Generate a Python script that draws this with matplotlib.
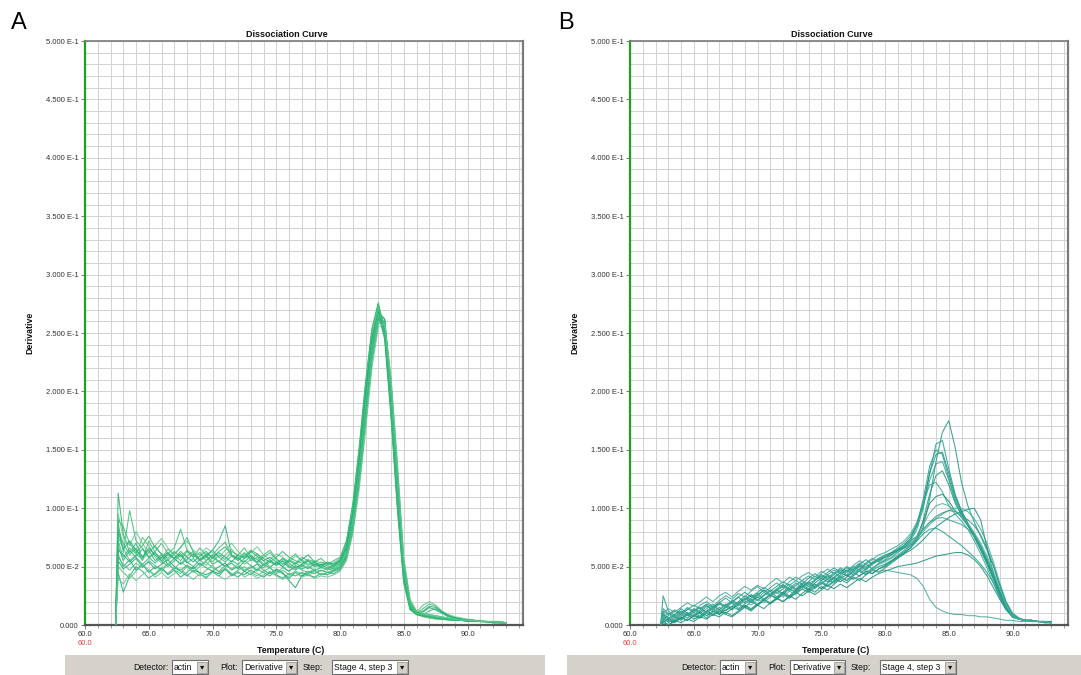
import matplotlib
matplotlib.use('Agg')
import matplotlib.pyplot as plt
from matplotlib.ticker import MultipleLocator, FixedLocator
from matplotlib.patches import Rectangle
import numpy as np

plt.rcParams['font.family'] = ['Liberation Sans', 'DejaVu Sans']

# ---------------- data ----------------
TEMP = [62.4, 62.6,
        63.0, 63.5, 64.0, 64.5, 65.0, 65.5, 66.0, 66.5, 67.0, 67.5, 68.0, 68.5,
        69.0, 69.5, 70.0, 70.5, 71.0, 71.5, 72.0, 72.5, 73.0, 73.5, 74.0, 74.5,
        75.0, 75.5, 76.0, 76.5, 77.0, 77.5, 78.0, 78.5, 79.0, 79.5, 80.0, 80.5,
        81.0, 81.5, 82.0, 82.5, 83.0, 83.5, 84.0, 84.5, 85.0, 85.5, 86.0, 86.5,
        87.0, 87.5, 88.0, 88.5, 89.0, 89.5, 90.0, 90.5, 91.0, 91.5, 92.0, 92.5, 93.0]

# Panel A derivative curves (units of 1E-3)
A01 = [0, 113, 78, 62, 70, 58, 64, 55, 60, 52, 57, 61, 54, 50, 56, 59, 52, 55, 50, 53, 48, 55, 51, 47, 52, 49, 54, 50, 46, 51, 48, 50, 47, 49, 48, 50,
       52, 64, 92, 135, 188, 240, 270, 258, 198, 122, 46, 16, 9, 8, 7, 6, 5, 5, 4, 4, 4, 3, 3, 3, 3, 2, 2]
A02 = [0, 88, 62, 98, 72, 66, 58, 63, 70, 61, 66, 82, 64, 58, 62, 55, 60, 66, 71, 59, 57, 62, 55, 58, 52, 56, 51, 55, 49, 53, 50, 55, 52, 50, 53, 51,
       55, 68, 98, 145, 200, 248, 272, 252, 185, 108, 40, 14, 10, 14, 18, 16, 11, 8, 6, 5, 4, 4, 3, 3, 3, 3, 2]
A03 = [0, 60, 50, 56, 47, 52, 45, 50, 48, 44, 49, 46, 42, 47, 45, 43, 46, 44, 48, 42, 45, 43, 47, 44, 41, 45, 43, 40, 44, 42, 45, 43, 41, 44, 43, 46,
       48, 58, 84, 125, 178, 230, 262, 256, 200, 128, 52, 19, 10, 8, 7, 6, 6, 5, 5, 4, 4, 3, 3, 3, 2, 2, 2]
A04 = [0, 75, 66, 55, 60, 75, 68, 58, 53, 60, 57, 52, 59, 63, 56, 51, 58, 54, 60, 65, 58, 52, 56, 61, 55, 50, 53, 57, 51, 48, 52, 49, 53, 50, 47, 49,
       51, 62, 88, 130, 182, 236, 266, 262, 205, 130, 50, 17, 11, 17, 20, 17, 12, 9, 7, 6, 5, 4, 4, 3, 3, 3, 2]
A05 = [0, 45, 28, 42, 50, 46, 40, 44, 49, 43, 47, 41, 45, 50, 44, 40, 46, 42, 48, 44, 41, 46, 43, 48, 45, 42, 47, 44, 40, 45, 42, 44, 47, 43, 45, 44,
       47, 56, 80, 120, 172, 225, 258, 260, 210, 135, 55, 20, 11, 9, 8, 7, 6, 5, 5, 4, 4, 4, 3, 3, 3, 2, 2]
A06 = [0, 82, 70, 60, 66, 55, 72, 62, 57, 65, 60, 55, 63, 58, 66, 60, 54, 60, 56, 63, 60, 66, 58, 54, 60, 64, 57, 52, 56, 53, 58, 55, 51, 54, 52, 53,
       56, 70, 100, 148, 205, 252, 275, 250, 180, 100, 36, 13, 9, 7, 6, 5, 5, 4, 4, 4, 3, 3, 3, 3, 2, 2, 2]
A07 = [0, 68, 55, 64, 58, 52, 57, 62, 55, 50, 55, 60, 53, 57, 51, 55, 60, 54, 50, 55, 52, 57, 60, 53, 49, 54, 51, 55, 50, 47, 51, 48, 52, 49, 51, 48,
       50, 60, 86, 128, 180, 234, 264, 254, 194, 118, 44, 16, 10, 9, 12, 14, 11, 8, 6, 5, 4, 4, 3, 3, 3, 2, 2]
A08 = [0, 95, 75, 68, 80, 70, 62, 68, 74, 66, 60, 67, 72, 64, 60, 66, 62, 58, 64, 70, 63, 58, 62, 67, 60, 56, 61, 58, 54, 59, 56, 52, 55, 53, 51, 53,
       57, 71, 102, 150, 206, 250, 268, 244, 176, 98, 35, 13, 9, 8, 7, 6, 5, 5, 4, 4, 3, 3, 3, 2, 2, 2, 2]
A09 = [0, 55, 48, 52, 57, 50, 54, 48, 52, 56, 50, 47, 51, 48, 53, 49, 46, 50, 53, 47, 50, 46, 49, 52, 47, 44, 48, 45, 38, 32, 42, 46, 44, 47, 45, 47,
       49, 59, 86, 128, 182, 236, 268, 262, 202, 126, 48, 17, 10, 11, 15, 13, 10, 7, 6, 5, 4, 4, 3, 3, 3, 2, 2]
A10 = [0, 72, 58, 66, 61, 56, 62, 68, 60, 55, 61, 66, 75, 62, 56, 60, 64, 58, 54, 59, 55, 61, 57, 53, 58, 62, 56, 52, 56, 61, 55, 51, 54, 50, 53, 50,
       53, 65, 94, 140, 196, 246, 270, 248, 184, 106, 40, 14, 9, 8, 7, 6, 6, 5, 4, 4, 4, 3, 3, 3, 2, 2, 2]
A11 = [0, 50, 45, 40, 46, 52, 47, 43, 48, 53, 47, 44, 50, 46, 42, 47, 51, 45, 49, 43, 47, 50, 45, 42, 46, 49, 44, 47, 43, 46, 44, 42, 46, 43, 45, 46,
       48, 57, 82, 122, 175, 228, 260, 258, 205, 132, 54, 20, 12, 10, 9, 8, 7, 6, 5, 5, 4, 4, 3, 3, 3, 3, 2]
A12 = [0, 64, 60, 54, 59, 65, 58, 53, 58, 62, 57, 52, 56, 61, 55, 58, 64, 72, 85, 60, 57, 54, 59, 56, 51, 55, 52, 57, 53, 49, 52, 55, 50, 52, 49, 51,
       54, 66, 95, 142, 198, 245, 268, 250, 188, 112, 42, 15, 10, 12, 16, 15, 11, 8, 6, 5, 4, 4, 3, 3, 3, 2, 2]
A13 = [0, 80, 65, 72, 64, 58, 66, 60, 55, 61, 57, 63, 58, 54, 59, 63, 57, 62, 58, 54, 60, 57, 63, 59, 55, 58, 54, 50, 55, 52, 56, 60, 54, 51, 54, 52,
       55, 67, 96, 142, 196, 244, 266, 246, 182, 104, 38, 14, 9, 8, 7, 6, 5, 5, 4, 4, 3, 3, 3, 3, 2, 2, 2]
A14 = [0, 58, 52, 47, 53, 49, 55, 51, 46, 52, 48, 54, 50, 45, 50, 54, 49, 46, 51, 48, 52, 47, 50, 46, 52, 49, 45, 49, 46, 50, 47, 45, 48, 46, 48, 47,
       50, 61, 88, 132, 186, 238, 266, 258, 196, 120, 46, 17, 10, 9, 8, 7, 6, 5, 5, 4, 4, 3, 3, 3, 2, 2, 2]
A15 = [0, 90, 84, 70, 62, 68, 76, 66, 61, 57, 63, 58, 64, 60, 56, 61, 58, 63, 67, 60, 56, 59, 64, 61, 57, 54, 58, 63, 58, 55, 53, 56, 54, 57, 52, 55,
       58, 72, 104, 152, 208, 254, 276, 252, 182, 102, 38, 14, 9, 8, 7, 6, 5, 5, 4, 4, 4, 3, 3, 3, 2, 2, 2]
A16 = [0, 40, 35, 44, 38, 43, 47, 41, 45, 40, 44, 48, 43, 39, 44, 41, 45, 42, 39, 43, 46, 41, 44, 40, 43, 46, 42, 39, 42, 45, 41, 43, 40, 42, 41, 43,
       46, 55, 78, 116, 166, 220, 255, 258, 212, 140, 58, 22, 12, 10, 9, 8, 7, 6, 5, 4, 4, 4, 3, 3, 3, 2, 2]

# Panel B derivative curves (units of 1E-3)
B01 = [0, 10, 6, 9, 12, 8, 14, 11, 16, 13, 18, 15, 20, 24, 19, 23, 27, 22, 26, 30, 27, 31, 28, 33, 36, 32, 35, 39, 36, 40, 43, 39, 42, 46, 44, 48,
       50, 54, 58, 62, 66, 72, 84, 108, 140, 165, 175, 152, 122, 102, 88, 76, 64, 50, 34, 19, 10, 6, 4, 4, 3, 3, 3]
B02 = [0, 25, 12, 8, 14, 10, 7, 13, 17, 12, 9, 15, 19, 14, 18, 22, 17, 21, 26, 23, 28, 25, 30, 34, 29, 33, 37, 34, 38, 42, 38, 43, 47, 44, 49, 52,
       55, 58, 62, 66, 72, 82, 100, 130, 155, 158, 134, 112, 98, 87, 77, 66, 54, 40, 26, 14, 8, 5, 4, 3, 3, 3, 2]
B03 = [0, 5, 3, 7, 5, 10, 8, 6, 11, 14, 10, 16, 13, 18, 22, 26, 21, 25, 29, 24, 28, 33, 30, 35, 31, 36, 40, 37, 41, 45, 42, 46, 50, 47, 52, 55,
       58, 61, 64, 68, 74, 85, 104, 130, 146, 148, 130, 110, 97, 87, 77, 67, 55, 42, 28, 16, 8, 5, 4, 4, 3, 3, 3]
B04 = [0, 8, 2, 5, 9, 6, 11, 15, 10, 14, 19, 16, 21, 18, 23, 20, 25, 30, 26, 31, 35, 30, 34, 38, 33, 38, 43, 40, 45, 41, 46, 50, 47, 53, 57, 54,
       58, 62, 66, 70, 76, 86, 102, 124, 138, 140, 124, 106, 94, 85, 75, 64, 52, 39, 25, 14, 7, 5, 4, 3, 3, 3, 2]
B05 = [0, 4, 0, 3, 6, 4, 8, 6, 10, 8, 12, 9, 7, 11, 15, 12, 17, 14, 19, 23, 20, 25, 22, 27, 31, 28, 33, 30, 35, 39, 36, 41, 38, 43, 47, 45,
       49, 53, 57, 61, 66, 74, 90, 112, 128, 132, 120, 104, 94, 86, 78, 68, 56, 43, 29, 16, 8, 5, 4, 4, 3, 3, 2]
B06 = [0, 12, 9, 13, 10, 15, 12, 17, 20, 16, 21, 25, 22, 27, 24, 29, 33, 28, 32, 36, 32, 37, 41, 38, 42, 39, 44, 48, 44, 49, 46, 51, 55, 52, 56, 60,
       62, 65, 68, 72, 78, 88, 104, 120, 122, 114, 102, 95, 89, 82, 72, 61, 49, 36, 23, 13, 7, 5, 4, 3, 3, 3, 2]
B07 = [0, 6, 4, 2, 6, 9, 5, 8, 12, 9, 13, 10, 14, 18, 15, 20, 17, 22, 26, 22, 27, 24, 29, 33, 30, 35, 31, 36, 40, 37, 41, 45, 42, 46, 44, 48,
       51, 55, 59, 63, 68, 76, 88, 104, 110, 112, 106, 98, 92, 85, 76, 65, 53, 40, 26, 14, 7, 5, 4, 3, 3, 2, 2]
B08 = [0, 3, 6, 4, 8, 11, 7, 10, 14, 18, 13, 17, 21, 17, 22, 26, 23, 28, 24, 29, 33, 29, 34, 38, 35, 39, 43, 40, 44, 48, 45, 49, 53, 50, 54, 57,
       58, 61, 64, 67, 70, 74, 80, 86, 91, 95, 98, 100, 100, 97, 91, 82, 70, 54, 36, 20, 10, 6, 4, 4, 3, 3, 3]
B09 = [0, 9, 5, 8, 4, 9, 13, 10, 6, 11, 15, 12, 16, 20, 25, 21, 26, 30, 25, 30, 34, 31, 36, 32, 37, 42, 38, 43, 40, 45, 49, 46, 51, 48, 53, 56,
       59, 62, 65, 68, 72, 76, 82, 88, 93, 96, 98, 97, 94, 90, 85, 77, 66, 51, 34, 19, 9, 5, 4, 3, 3, 3, 2]
B10 = [0, 2, 0, 4, 2, 5, 3, 7, 5, 9, 7, 11, 8, 12, 16, 13, 17, 21, 18, 22, 26, 23, 27, 31, 28, 32, 36, 33, 37, 41, 38, 42, 46, 43, 47, 50,
       52, 55, 58, 61, 64, 68, 73, 79, 84, 88, 92, 95, 97, 99, 100, 90, 66, 44, 27, 15, 8, 5, 4, 4, 3, 3, 3]
B11 = [0, 7, 10, 7, 11, 8, 12, 15, 11, 15, 19, 16, 20, 17, 21, 25, 21, 26, 30, 27, 31, 35, 31, 36, 33, 38, 42, 39, 43, 47, 43, 48, 52, 49, 53, 56,
       58, 60, 63, 66, 70, 75, 82, 88, 91, 92, 90, 88, 86, 82, 76, 68, 57, 44, 30, 17, 9, 5, 4, 3, 3, 3, 2]
B12 = [0, 5, 8, 12, 9, 13, 17, 14, 18, 15, 19, 23, 19, 24, 28, 24, 28, 32, 29, 33, 37, 34, 38, 35, 40, 44, 40, 45, 49, 45, 50, 47, 52, 56, 52, 57,
       60, 62, 64, 66, 68, 72, 78, 82, 83, 80, 76, 72, 68, 63, 58, 52, 45, 36, 25, 15, 8, 5, 4, 3, 3, 2, 2]
B13 = [0, 10, 14, 11, 15, 19, 16, 20, 24, 20, 25, 28, 24, 29, 33, 30, 34, 31, 36, 40, 36, 41, 38, 42, 45, 41, 46, 43, 47, 44, 47, 45, 48, 46, 47, 46,
       47, 46, 45, 44, 43, 40, 33, 22, 15, 12, 10, 9, 9, 8, 8, 7, 7, 6, 5, 4, 4, 3, 3, 3, 3, 2, 2]
B14 = [0, 2, 5, 3, 7, 4, 8, 11, 8, 12, 9, 13, 16, 13, 17, 14, 18, 22, 19, 23, 20, 24, 28, 25, 29, 26, 30, 34, 31, 35, 32, 36, 40, 37, 41, 44,
       46, 48, 50, 51, 52, 53, 55, 57, 59, 60, 61, 62, 62, 60, 56, 50, 42, 32, 22, 13, 7, 5, 4, 3, 3, 3, 2]
B15 = [0, 14, 10, 6, 10, 14, 11, 7, 12, 16, 13, 18, 14, 19, 23, 19, 24, 21, 26, 30, 26, 31, 28, 33, 37, 33, 38, 42, 38, 43, 47, 43, 48, 52, 48, 53,
       56, 60, 64, 68, 74, 86, 108, 136, 150, 146, 126, 108, 96, 86, 76, 65, 53, 40, 26, 14, 7, 5, 4, 4, 3, 3, 2]
B16 = [0, 6, 3, 7, 10, 6, 9, 13, 10, 14, 11, 15, 19, 16, 21, 17, 22, 19, 24, 28, 24, 29, 26, 31, 35, 31, 36, 40, 36, 41, 38, 43, 47, 44, 48, 52,
       54, 57, 60, 64, 69, 76, 86, 96, 102, 104, 102, 98, 93, 87, 79, 70, 59, 46, 31, 17, 8, 5, 4, 3, 3, 3, 2]

A_SERIES = [A01, A02, A03, A04, A05, A06, A07, A08, A09, A10, A11, A12, A13, A14, A15, A16]
B_SERIES = [B01, B02, B03, B04, B05, B06, B07, B08, B09, B10, B11, B12, B13, B14, B15, B16]

XTICKS = [60, 65, 70, 75, 80, 85, 90]
XTICK_LABELS = ['60.0', '65.0', '70.0', '75.0', '80.0', '85.0', '90.0']
YTICKS = [0.0, 0.05, 0.10, 0.15, 0.20, 0.25, 0.30, 0.35, 0.40, 0.45, 0.50]
YTICK_LABELS = ['0.000', '5.000 E-2', '1.000 E-1', '1.500 E-1', '2.000 E-1', '2.500 E-1',
                '3.000 E-1', '3.500 E-1', '4.000 E-1', '4.500 E-1', '5.000 E-1']
CONTROL_LABELS = ['Detector:', 'Plot:', 'Step:']
CONTROL_VALUES = ['actin', 'Derivative', 'Stage 4, step 3']

bad = [i for i, s in enumerate(A_SERIES + B_SERIES) if len(s) != len(TEMP)]
if bad:
    raise ValueError('bad lengths: %s' % [(i, len((A_SERIES + B_SERIES)[i])) for i in bad])

# ---------------- styling ----------------
A_COLORS = ['#2cb56f', '#3fbf7a', '#1fae74', '#5cc585', '#27b27e', '#48bb6f', '#34b888', '#6bc98e',
            '#22a86c', '#3dc07e', '#58c27a', '#2fb27a', '#1fb080', '#4ec08a', '#36ba70', '#62c894']
B_COLORS = ['#1e9c86', '#2aa090', '#169580', '#34a596', '#249a7e', '#3aa898', '#1d8f7c', '#45ad9d',
            '#2b9f88', '#1a9886', '#3ca393', '#27a08c', '#48a89a', '#1f9480', '#30a28e', '#52b0a0']

W, H = 1081, 675
fig = plt.figure(figsize=(W / 100, H / 100), dpi=100)
fig.patch.set_facecolor('white')


def fx(x):
    return x / W


def fy(y):
    return 1 - y / H


def panel(left_px, series, colors, letter, letter_x, bar_l, bar_r, dx):
    ax = fig.add_axes([fx(left_px), 50 / H, 438 / W, 584 / H])
    for i, s in enumerate(series):
        ax.plot(TEMP, np.array(s) / 1000.0, color=colors[i % len(colors)], lw=0.75,
                alpha=0.9, zorder=3, solid_joinstyle='round')
    ax.set_xlim(60, 94.35)
    ax.set_ylim(0, 0.5)
    ax.xaxis.set_major_locator(FixedLocator(XTICKS))
    ax.set_xticklabels(XTICK_LABELS)
    ax.xaxis.set_minor_locator(MultipleLocator(1))
    ax.yaxis.set_major_locator(FixedLocator(YTICKS))
    ax.set_yticklabels(YTICK_LABELS)
    ax.yaxis.set_minor_locator(MultipleLocator(0.01))
    ax.grid(which='both', color='#d3d3d3', lw=0.75)
    ax.set_axisbelow(True)
    ax.tick_params(axis='both', which='major', labelsize=5.5, labelcolor='#333333',
                   color='#777777', length=3, width=0.7, pad=1.5)
    ax.tick_params(axis='x', which='minor', length=2, width=0.6, color='#888888')
    ax.tick_params(axis='y', which='minor', length=0)
    ax.spines['left'].set_color('#1fa01f')
    ax.spines['left'].set_linewidth(1.6)
    ax.spines['bottom'].set_color('#555555')
    ax.spines['bottom'].set_linewidth(1.6)
    ax.spines['top'].set_color('#7a7a7a')
    ax.spines['top'].set_linewidth(1.2)
    ax.spines['right'].set_color('#7a7a7a')
    ax.spines['right'].set_linewidth(1.6)

    ax.text(0.46, 1.004, 'Dissociation Curve', transform=ax.transAxes, ha='center',
            va='bottom', fontsize=6.5, fontweight='bold', color='#111111')
    ax.text(-0.125, 0.5, 'Derivative', transform=ax.transAxes, rotation=90,
            ha='center', va='center', fontsize=6.3, fontweight='bold', color='#111111')
    ax.text(0.47, -0.0445, 'Temperature (C)', transform=ax.transAxes, ha='center',
            va='center', fontsize=6.3, fontweight='bold', color='#111111')
    ax.text(0.0, -0.0325, '60.0', transform=ax.transAxes, ha='center', va='center',
            fontsize=5.5, color='#e8403c')

    fig.text(fx(letter_x), fy(23), letter, fontsize=17, ha='center', va='center', color='black')

    # bottom control bar
    fig.add_artist(Rectangle((fx(bar_l), 0), (bar_r - bar_l) / W, 20 / H,
                             transform=fig.transFigure, facecolor='#d5d2cc', edgecolor='none'))
    label_right = [168, 238, 323]
    boxes = [(172, 208), (242, 297), (332, 408)]
    for lab, lr in zip(CONTROL_LABELS, label_right):
        fig.text(fx(lr + dx), fy(667), lab, ha='right', va='center', fontsize=6.2, color='#111111')
    for val, (bl, br) in zip(CONTROL_VALUES, boxes):
        bl += dx
        br += dx
        fig.add_artist(Rectangle((fx(bl), fy(674)), (br - bl) / W, 14 / H,
                                 transform=fig.transFigure, facecolor='white',
                                 edgecolor='#6f6f6f', lw=0.8))
        fig.add_artist(Rectangle((fx(br - 11), fy(672.5)), 10 / W, 11 / H,
                                 transform=fig.transFigure, facecolor='#d4d0c8',
                                 edgecolor='#9a9a9a', lw=0.6))
        fig.text(fx(br - 6), fy(667), '\u25be', ha='center', va='center', fontsize=6,
                 family='DejaVu Sans', color='#111111')
        fig.text(fx(bl + 2), fy(667), val, ha='left', va='center', fontsize=6.2, color='#111111')
    return ax


panel(85, A_SERIES, A_COLORS, 'A', 19, 65, 545, 0)
panel(630, B_SERIES, B_COLORS, 'B', 566, 567, 1081, 548)

fig.savefig('out.png', dpi=100, facecolor='white')
